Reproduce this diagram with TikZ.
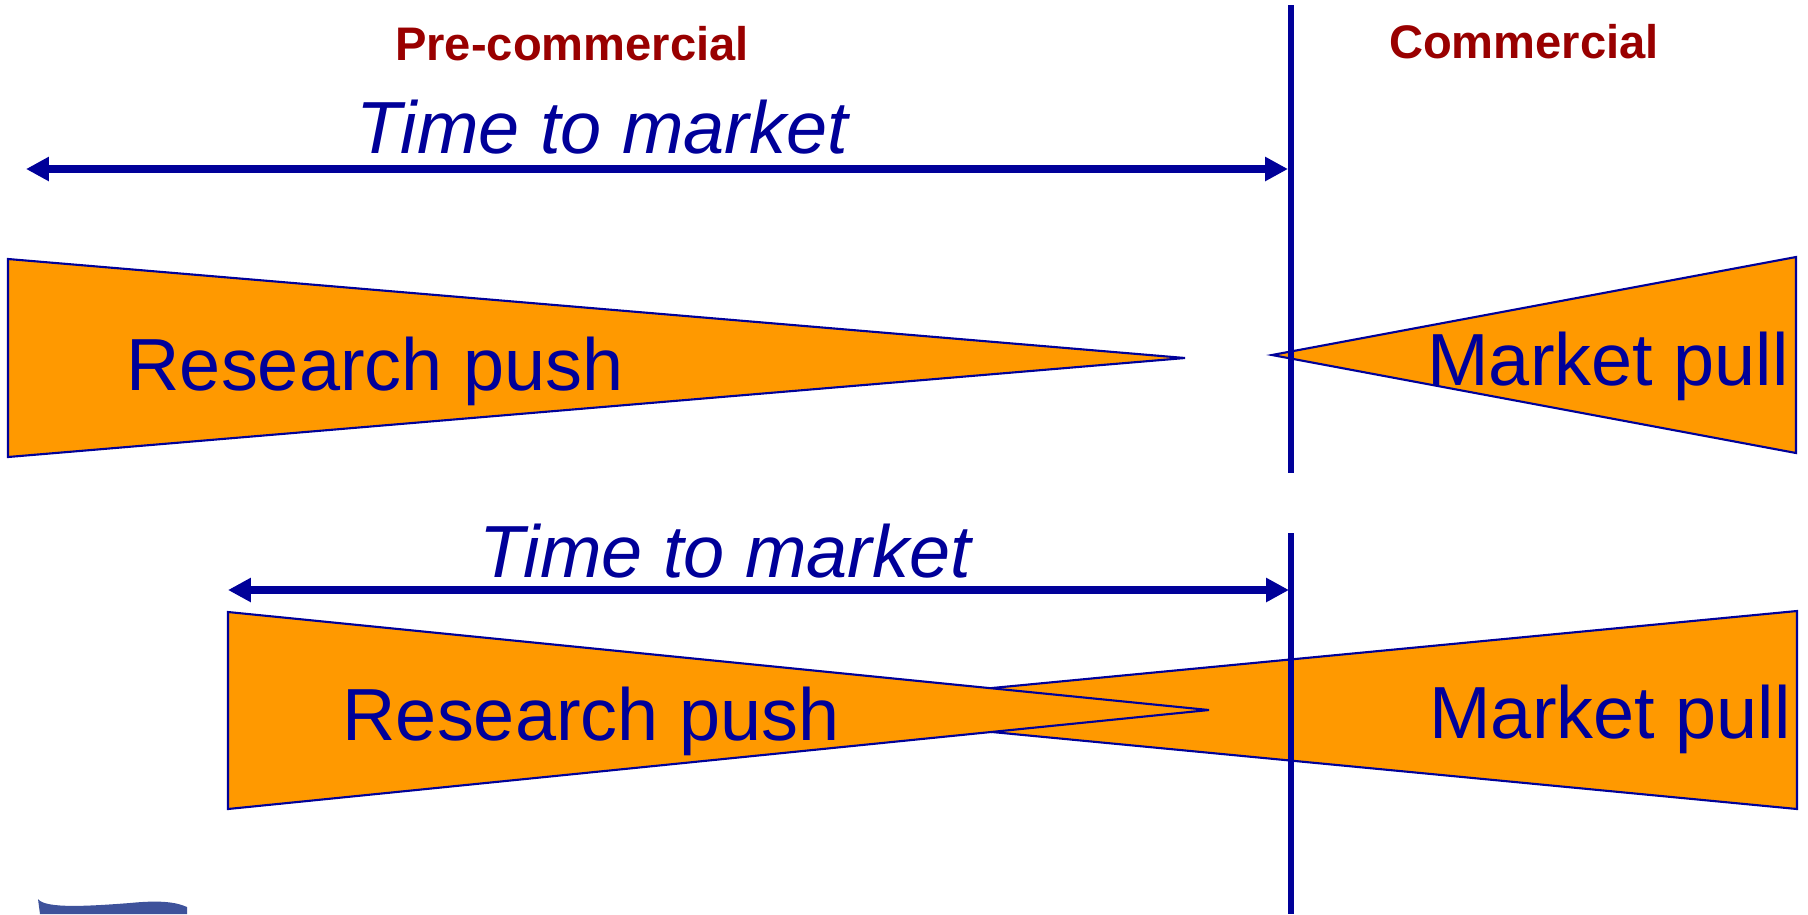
\documentclass[tikz,border=0pt]{standalone}
\usepackage{fontspec}
\setmainfont{Liberation Sans}
\usetikzlibrary{positioning,calc,arrows,arrows.meta}
\definecolor{navy}{RGB}{0,0,153}
\definecolor{darkred}{RGB}{153,0,0}
\definecolor{amber}{RGB}{255,153,0}
\definecolor{logoblue}{RGB}{62,82,155}
\tikzset{font=\fontsize{21pt}{25pt}\selectfont}

\begin{document}
\begin{tikzpicture}[x=0.01cm, y=-0.01cm]
	\useasboundingbox (0,0) rectangle (1808,914);
	\begin{scope}
		\tikzstyle{every node}=[inner sep=0pt, anchor=base, text=navy]
		\tikzstyle{phase}=[font=\fontsize{13.4pt}{16pt}\selectfont\bfseries, text=darkred]
		\tikzstyle{wedge}=[fill=amber, draw=navy, line width=0.6pt, line join=miter]
		\tikzstyle{ttm}=[line width=2.2pt, draw=navy, {Triangle[length=6.5pt,width=6.5pt]}-{Triangle[length=6.5pt,width=6.5pt]}]
		\tikzstyle{launch}=[line width=1.7pt, draw=navy]

		% upper case: push and pull do not meet
		\node[phase] (pre) at (572, 60) {Pre-commercial};
		\node[phase] (com) at (1524, 58) {Commercial};

		\draw[wedge] (8, 259) -- (8, 457) -- (1185, 358) -- cycle;
		\draw[wedge] (1272, 355) -- (1796, 257) -- (1796, 453) -- cycle;
		\node (push) at (375, 390) {Research push};
		\node (pull) at (1608, 385) {Market pull};

		\node[font=\fontsize{21pt}{25pt}\selectfont\itshape] (ttm) at (602, 153) {Time to market};
		\coordinate (ttmL) at (26, 169);
		\coordinate (ttmR) at (1288, 169);
		\draw[ttm] (ttmL) to (ttmR);

		\coordinate (launchT) at (1291, 5);
		\coordinate (launchB) at (1291, 473);
		\draw[launch] (launchT) to (launchB);

		% lower case: push and pull overlap
		\draw[wedge] (762, 710) -- (1797, 611) -- (1797, 809) -- cycle;
		\draw[wedge] (228, 612) -- (228, 809) -- (1209, 710) -- cycle;
		\node (push2) at (591, 740) {Research push};
		\node (pull2) at (1610, 738) {Market pull};

		\node[font=\fontsize{21pt}{25pt}\selectfont\itshape] (ttm2) at (725, 577) {Time to market};
		\coordinate (ttm2L) at (228, 590);
		\coordinate (ttm2R) at (1289, 590);
		\draw[ttm] (ttm2L) to (ttm2R);

		\coordinate (launch2T) at (1291, 533);
		\coordinate (launch2B) at (1291, 914);
		\draw[launch] (launch2T) to (launch2B);

		% cut-off logo
		\fill[logoblue] (38, 899) .. controls (45, 909) and (90, 906) .. (130, 903)
			.. controls (160, 900) and (176, 902) .. (187, 907) -- (187, 914) -- (40, 914) -- cycle;
	\end{scope}
\end{tikzpicture}
\end{document}
